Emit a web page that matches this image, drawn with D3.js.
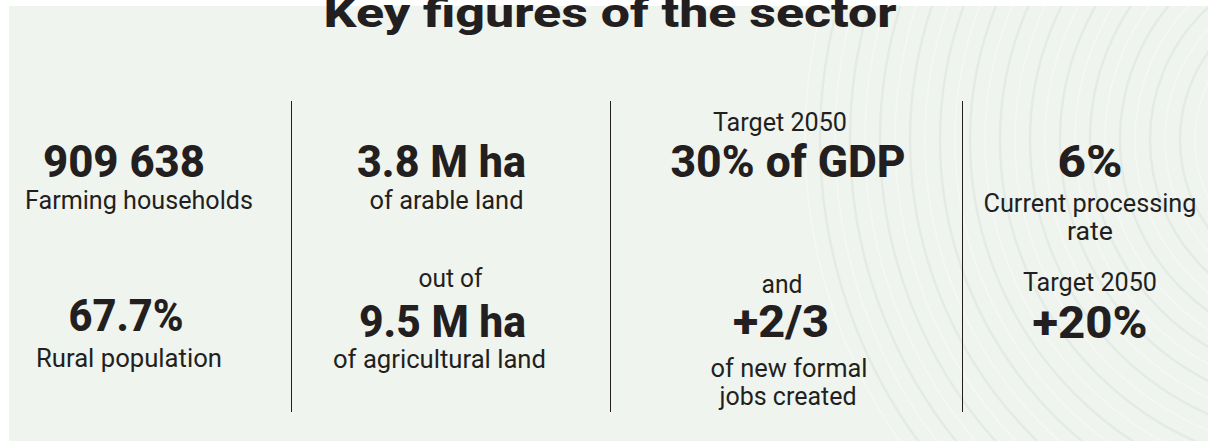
<!DOCTYPE html>
<html>
<head>
<meta charset="utf-8">
<script src="https://cdn.jsdelivr.net/npm/d3@7"></script>
<style>
  html, body { margin: 0; padding: 0; background: #ffffff; }
  svg { display: block; }
  text { font-family: Roboto, 'Open Sans', sans-serif; fill: #231f20; }
  .big { font-weight: 800; font-size: 45px; }
  .small { font-weight: 400; font-size: 25px; }
  .title { font-weight: 800; font-size: 40px; }
</style>
</head>
<body>
<div id="vis"></div>
<script>
// Chart content
var title = 'Key figures of the sector';

var columns = ['households', 'land', 'gdp', 'processing'];

// one entry per text line, in reading order
var lineColumn = [0, 0, 0, 0, 1, 1, 1, 1, 1, 2, 2, 2, 2, 2, 2, 3, 3, 3, 3, 3];
var lineText = [
  '909 638', 'Farming households', '67.7%', 'Rural population',
  '3.8 M ha', 'of arable land', 'out of', '9.5 M ha', 'of agricultural land',
  'Target 2050', '30% of GDP', 'and', '+2/3', 'of new formal', 'jobs created',
  '6%', 'Current processing', 'rate', 'Target 2050', '+20%'
];
var lineIsFigure = [
  true, false, true, false,
  true, false, false, true, false,
  false, true, false, true, false, false,
  true, false, false, false, true
];

// Layout
var width = 1208;
var height = 441;

// column boundaries (dividers sit on the inner ones)
var colEdges = d3.scaleOrdinal()
  .domain(columns)
  .range([[9, 291], [291, 610], [610, 962], [962, 1208]]);

// per line: offset of the text centre from the column centre, baseline, drawn width
var lineLayout = [
  [-26, 177, 162], [-11, 209, 228], [-24, 331, 115], [-21, 367, 186],
  [-9, 177, 169], [-4, 209, 154], [0, 287, 64], [-8, 337, 167], [-11, 368, 213],
  [-6, 131, 134], [2, 177, 235], [-4, 293, 41], [-5, 337, 96], [3, 377, 157], [2, 405, 137],
  [5, 177, 65], [5, 212, 213], [5, 240, 46], [5, 291, 134], [5, 338, 115]
];

var svg = d3.select('#vis')
  .append('svg')
  .attr('width', width)
  .attr('height', height);

// light panel
svg.append('rect')
  .attr('x', 9)
  .attr('y', 6)
  .attr('width', width - 9)
  .attr('height', height - 6)
  .attr('fill', '#eff4ef');

svg.append('clipPath')
  .attr('id', 'panel-clip')
  .append('rect')
  .attr('x', 9)
  .attr('y', 6)
  .attr('width', width - 9)
  .attr('height', height - 6);

// faint ripple arcs on the right
var ripples = svg.append('g')
  .attr('clip-path', 'url(#panel-clip)');

ripples.selectAll('circle.ripple')
  .data(d3.range(60, 530, 15))
  .enter().append('circle')
  .attr('class', 'ripple')
  .attr('cx', 1330)
  .attr('cy', 140)
  .attr('r', function (d) { return d; })
  .attr('fill', 'none')
  .attr('stroke', function (d, i) { return i % 2 ? '#f5f8f5' : '#e4ebe5'; })
  .attr('stroke-width', function (d, i) { return i % 2 ? 1.5 : 2.5; });

// title, cut at the top like the original
svg.append('text')
  .attr('class', 'title')
  .attr('x', 610)
  .attr('y', 27)
  .attr('text-anchor', 'middle')
  .attr('textLength', 573)
  .attr('lengthAdjust', 'spacingAndGlyphs')
  .text(title);

// vertical dividers
svg.selectAll('line.divider')
  .data(columns.slice(1))
  .enter().append('line')
  .attr('class', 'divider')
  .attr('x1', function (d) { return colEdges(d)[0] + 0.5; })
  .attr('x2', function (d) { return colEdges(d)[0] + 0.5; })
  .attr('y1', 101)
  .attr('y2', 412)
  .attr('stroke', '#231f20')
  .attr('stroke-width', 1);

function colCenter(i) {
  var e = colEdges(columns[lineColumn[i]]);
  return (e[0] + e[1]) / 2;
}

svg.selectAll('text.line')
  .data(lineText)
  .enter().append('text')
  .attr('class', function (d, i) { return 'line ' + (lineIsFigure[i] ? 'big' : 'small'); })
  .attr('x', function (d, i) { return colCenter(i) + lineLayout[i][0]; })
  .attr('y', function (d, i) { return lineLayout[i][1]; })
  .attr('text-anchor', 'middle')
  .attr('textLength', function (d, i) { return lineLayout[i][2]; })
  .attr('lengthAdjust', 'spacingAndGlyphs')
  .text(function (d) { return d; });
</script>
</body>
</html>
